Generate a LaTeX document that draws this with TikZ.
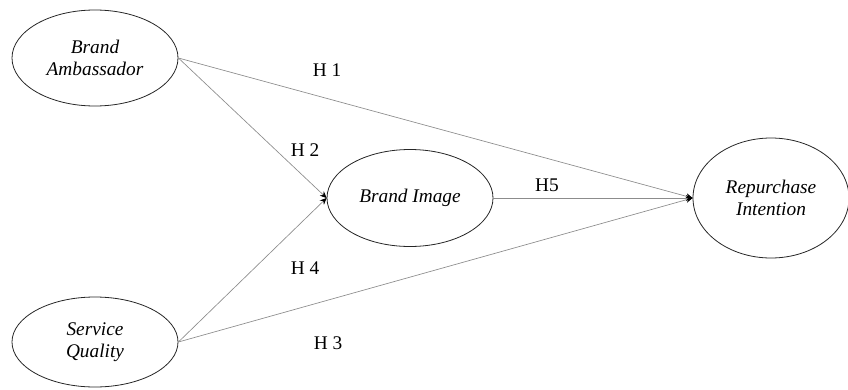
\documentclass[tikz,border=0pt]{standalone}
\usepackage{fontspec}
\setmainfont{Liberation Serif}
\usetikzlibrary{shapes,arrows.meta,positioning}

\begin{document}
\begin{tikzpicture}[
    x=0.75pt, y=-0.75pt,
    latent/.style={draw=black!85, line width=0.6pt, ellipse, inner sep=0pt, align=center, font=\fontsize{14.5}{16.5}\selectfont\itshape},
    hyp/.style={font=\fontsize{14.5}{16.5}\selectfont},
    arrow/.style={-{Stealth[length=5pt,width=4.5pt,black]}, draw=black!45, line width=0.5pt},
]
    \useasboundingbox (0,0) rectangle (848,389);

    % Constructs
    \node[latent, minimum width=124.5pt, minimum height=72pt] (ba) at (95,58) {Brand\\Ambassador};
    \node[latent, minimum width=124.5pt, minimum height=67.5pt] (sq) at (95,342) {Service\\Quality};
    \node[latent, minimum width=124.5pt, minimum height=72.75pt] (bi) at (410,198) {Brand Image};
    \node[latent, minimum width=117pt, minimum height=90pt] (ri) at (771,198) {Repurchase\\Intention};

    % Paths
    \draw[arrow] (ba.east) -- (ri.west);
    \draw[arrow] (ba.east) -- (bi.west);
    \draw[arrow] (sq.east) -- (bi.west);
    \draw[arrow] (sq.east) -- (ri.west);
    \draw[arrow] (bi.east) -- (ri.west);

    % Hypotheses
    \node[hyp] (h1) at (327,70) {H 1};
    \node[hyp] (h2) at (305,150) {H 2};
    \node[hyp] (h5) at (547,185) {H5};
    \node[hyp] (h4) at (305,268) {H 4};
    \node[hyp] (h3) at (328,343) {H 3};
\end{tikzpicture}
\end{document}
